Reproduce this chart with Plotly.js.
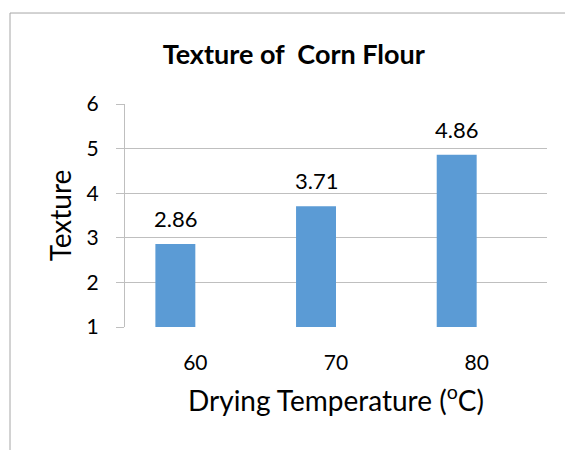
<!DOCTYPE html>
<html>
<head>
<meta charset="utf-8">
<script src="https://cdn.plot.ly/plotly-3.0.1.min.js"></script>
<style>html,body{margin:0;padding:0;background:#fff;}#chart{width:565px;height:450px;}</style>
</head>
<body>
<div id="chart"></div>
<script>
const categories = ['60', '70', '80'];
const textureValues = [2.86, 3.71, 4.86];
const valueLabels = ['2.86', '3.71', '4.86'];
const yTicks = [1, 2, 3, 4, 5, 6];

const FONT = 'Lato, "Open Sans", sans-serif';
const BAR_W = 0.284;   // bar width in category units (first slot of a 2-slot cluster)

const trace = {
  type: 'bar',
  x: categories,
  y: textureValues,
  width: BAR_W,
  offset: -BAR_W,
  marker: {color: '#5B9BD5'},
  hoverinfo: 'skip'
};

const annotations = categories.map((c, i) => ({
  x: i - BAR_W / 2, y: textureValues[i], xref: 'x', yref: 'y',
  text: valueLabels[i], showarrow: false,
  yanchor: 'bottom', yshift: 10,
  font: {family: FONT, size: 22, color: '#000'}
}));

const border = '#a6a6a6';
const shapes = [
  {type: 'line', xref: 'paper', yref: 'paper', x0: -0.2725, x1: -0.2725, y0: 1.408, y1: -0.6, line: {color: border, width: 1}},
  {type: 'line', xref: 'paper', yref: 'paper', x0: -0.2725, x1: 1.1, y0: 1.408, y1: 1.408, line: {color: border, width: 1}}
];

const layout = {
  width: 565, height: 450,
  margin: {l: 125, r: 18, t: 104, b: 123},
  paper_bgcolor: '#fff', plot_bgcolor: '#fff',
  title: {text: '<b>Texture of  Corn Flour</b>', font: {family: FONT, size: 27, color: '#000'}, x: 0.52, xanchor: 'center', y: 0.878, yanchor: 'middle'},
  showlegend: false,
  xaxis: {
    type: 'category',
    range: [-0.5, 2.5],
    showgrid: false, zeroline: false,
    showline: false,
    ticks: '',
    ticklabelstandoff: 21,
    tickfont: {family: FONT, size: 21, color: '#000'},
    title: {text: 'Drying Temperature (<sup>o</sup>C)', font: {family: FONT, size: 28, color: '#000'}, standoff: 18}
  },
  yaxis: {
    range: [1, 6],
    tickvals: yTicks,
    showgrid: true, gridcolor: '#bfbfbf', gridwidth: 1,
    zeroline: false,
    showline: true, linecolor: '#bfbfbf', linewidth: 1,
    ticks: 'outside', ticklen: 8, tickcolor: '#bfbfbf',
    ticklabelstandoff: 13,
    tickfont: {family: FONT, size: 21, color: '#000'},
    title: {text: 'Texture', font: {family: FONT, size: 28, color: '#000'}, standoff: 6}
  },
  shapes: shapes,
  annotations: annotations
};

Plotly.newPlot('chart', [trace], layout, {displayModeBar: false, staticPlot: true});
</script>
</body>
</html>
